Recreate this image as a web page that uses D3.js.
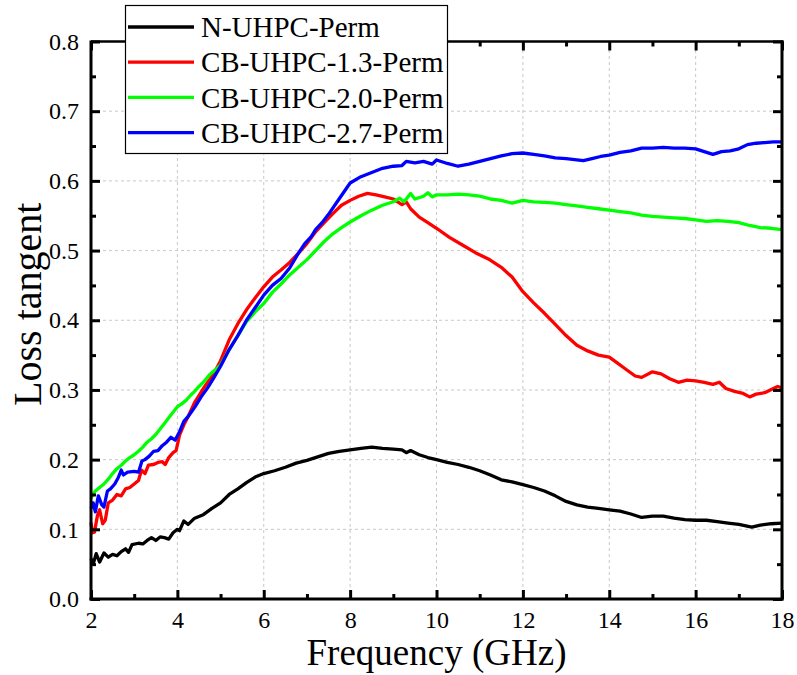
<!DOCTYPE html>
<html><head><meta charset="utf-8">
<script src="https://cdn.jsdelivr.net/npm/d3@7"></script>
<style>body{margin:0;background:#fff}svg{display:block}text{font-family:"Liberation Serif","Times New Roman",serif;fill:#000}</style>
</head><body>
<script>
const seriesNames = ["N-UHPC-Perm","CB-UHPC-1.3-Perm","CB-UHPC-2.0-Perm","CB-UHPC-2.7-Perm"];
const seriesColors = ["#000000","#ff0000","#00ff00","#0000ff"];
const xTicks = [2,4,6,8,10,12,14,16,18];
const yTicks = [0.0,0.1,0.2,0.3,0.4,0.5,0.6,0.7,0.8];

const nUHPC = [[2.0,0.058],[2.05,0.05],[2.12,0.065],[2.2,0.053],[2.3,0.066],[2.4,0.06],[2.5,0.064],[2.6,0.062],[2.7,0.068],[2.8,0.072],[2.87,0.067],[2.95,0.078],[3.1,0.08],[3.2,0.079],[3.3,0.084],[3.4,0.088],[3.5,0.084],[3.6,0.089],[3.7,0.088],[3.8,0.086],[3.9,0.095],[4.0,0.1],[4.05,0.098],[4.15,0.112],[4.25,0.107],[4.4,0.116],[4.6,0.121],[4.8,0.13],[5.0,0.138],[5.2,0.15],[5.4,0.158],[5.6,0.167],[5.8,0.175],[6.0,0.18],[6.25,0.184],[6.5,0.189],[6.75,0.195],[7.0,0.199],[7.25,0.204],[7.5,0.209],[7.75,0.212],[8.0,0.214],[8.25,0.216],[8.5,0.218],[8.75,0.216],[9.0,0.215],[9.2,0.214],[9.3,0.21],[9.4,0.213],[9.6,0.207],[9.8,0.203],[10.0,0.2],[10.25,0.196],[10.5,0.193],[10.75,0.189],[11.0,0.184],[11.25,0.178],[11.5,0.171],[11.75,0.168],[12.0,0.164],[12.25,0.16],[12.5,0.155],[12.75,0.148],[13.0,0.14],[13.25,0.135],[13.5,0.132],[13.75,0.13],[14.0,0.128],[14.25,0.126],[14.5,0.122],[14.75,0.117],[15.0,0.119],[15.25,0.119],[15.5,0.116],[15.75,0.114],[16.0,0.113],[16.25,0.113],[16.5,0.111],[16.75,0.109],[17.0,0.107],[17.3,0.103],[17.5,0.106],[17.75,0.108],[18.0,0.109]];

const cb13 = [[2.0,0.11],[2.03,0.095],[2.08,0.096],[2.15,0.12],[2.2,0.128],[2.27,0.108],[2.33,0.113],[2.4,0.138],[2.5,0.142],[2.6,0.15],[2.7,0.148],[2.8,0.158],[2.9,0.16],[3.0,0.165],[3.1,0.17],[3.17,0.185],[3.25,0.18],[3.33,0.192],[3.45,0.193],[3.55,0.196],[3.65,0.197],[3.72,0.193],[3.8,0.203],[3.9,0.21],[3.97,0.213],[4.05,0.235],[4.15,0.25],[4.25,0.262],[4.4,0.282],[4.5,0.292],[4.6,0.302],[4.75,0.315],[4.9,0.33],[5.0,0.342],[5.2,0.372],[5.4,0.395],[5.6,0.415],[5.8,0.432],[6.0,0.448],[6.2,0.462],[6.4,0.472],[6.6,0.483],[6.8,0.496],[7.0,0.51],[7.2,0.527],[7.4,0.54],[7.6,0.553],[7.8,0.565],[8.0,0.572],[8.2,0.578],[8.4,0.582],[8.6,0.58],[8.8,0.577],[9.0,0.574],[9.2,0.566],[9.3,0.57],[9.4,0.56],[9.6,0.548],[9.8,0.54],[10.0,0.532],[10.3,0.519],[10.6,0.508],[10.9,0.497],[11.2,0.488],[11.5,0.476],[11.75,0.462],[12.0,0.441],[12.25,0.425],[12.5,0.41],[12.75,0.394],[13.0,0.378],[13.25,0.364],[13.5,0.356],[13.75,0.35],[14.0,0.347],[14.2,0.338],[14.4,0.329],[14.6,0.32],[14.75,0.318],[15.0,0.326],[15.2,0.323],[15.4,0.316],[15.6,0.311],[15.8,0.314],[16.0,0.313],[16.2,0.311],[16.4,0.308],[16.55,0.311],[16.7,0.302],[16.9,0.298],[17.1,0.295],[17.25,0.29],[17.4,0.294],[17.6,0.296],[17.8,0.302],[17.9,0.305],[18.0,0.303]];

const cb20 = [[2.0,0.145],[2.1,0.155],[2.2,0.16],[2.3,0.165],[2.4,0.172],[2.5,0.18],[2.6,0.187],[2.7,0.192],[2.8,0.198],[2.9,0.203],[3.0,0.207],[3.1,0.212],[3.2,0.218],[3.3,0.225],[3.4,0.23],[3.5,0.236],[3.6,0.244],[3.7,0.252],[3.8,0.26],[3.9,0.268],[4.0,0.276],[4.1,0.28],[4.2,0.285],[4.3,0.292],[4.4,0.298],[4.5,0.305],[4.6,0.311],[4.75,0.322],[4.9,0.33],[5.0,0.336],[5.2,0.358],[5.4,0.378],[5.6,0.398],[5.8,0.412],[6.0,0.424],[6.2,0.44],[6.4,0.452],[6.6,0.465],[6.8,0.476],[7.0,0.487],[7.2,0.5],[7.4,0.513],[7.6,0.524],[7.8,0.533],[8.0,0.541],[8.25,0.55],[8.5,0.558],[8.75,0.565],[9.0,0.57],[9.15,0.575],[9.25,0.57],[9.4,0.582],[9.5,0.574],[9.7,0.578],[9.8,0.583],[9.9,0.577],[10.0,0.58],[10.25,0.58],[10.5,0.581],[10.75,0.58],[11.0,0.578],[11.25,0.574],[11.5,0.572],[11.75,0.568],[12.0,0.572],[12.25,0.57],[12.5,0.569],[12.75,0.568],[13.0,0.566],[13.25,0.564],[13.5,0.562],[13.75,0.56],[14.0,0.558],[14.25,0.556],[14.5,0.554],[14.75,0.551],[15.0,0.549],[15.25,0.548],[15.5,0.547],[15.75,0.546],[16.0,0.544],[16.25,0.542],[16.5,0.543],[16.75,0.542],[17.0,0.54],[17.25,0.536],[17.5,0.533],[17.75,0.532],[18.0,0.53]];

const cb27 = [[2.0,0.13],[2.05,0.138],[2.1,0.125],[2.17,0.148],[2.25,0.135],[2.3,0.132],[2.38,0.155],[2.45,0.158],[2.55,0.165],[2.63,0.174],[2.7,0.185],[2.75,0.178],[2.85,0.182],[3.0,0.183],[3.1,0.182],[3.18,0.198],[3.25,0.2],[3.35,0.205],[3.45,0.212],[3.55,0.213],[3.65,0.22],[3.75,0.225],[3.85,0.232],[3.95,0.228],[4.05,0.24],[4.15,0.255],[4.25,0.262],[4.4,0.275],[4.55,0.29],[4.7,0.303],[4.85,0.318],[5.0,0.334],[5.2,0.358],[5.4,0.378],[5.6,0.4],[5.8,0.418],[6.0,0.436],[6.2,0.45],[6.4,0.46],[6.6,0.475],[6.8,0.496],[6.95,0.51],[7.1,0.52],[7.2,0.53],[7.35,0.54],[7.5,0.552],[7.7,0.57],[7.9,0.588],[8.0,0.597],[8.25,0.606],[8.5,0.612],[8.75,0.618],[9.0,0.621],[9.2,0.622],[9.3,0.628],[9.5,0.626],[9.7,0.628],[9.9,0.624],[10.0,0.63],[10.25,0.625],[10.5,0.621],[10.75,0.624],[11.0,0.628],[11.25,0.632],[11.5,0.636],[11.75,0.639],[12.0,0.64],[12.25,0.638],[12.5,0.636],[12.75,0.633],[13.0,0.632],[13.25,0.63],[13.4,0.629],[13.6,0.632],[13.8,0.635],[14.0,0.637],[14.25,0.641],[14.5,0.643],[14.75,0.647],[15.0,0.647],[15.25,0.648],[15.5,0.647],[15.75,0.647],[16.0,0.646],[16.2,0.642],[16.4,0.638],[16.6,0.642],[16.8,0.643],[17.0,0.646],[17.2,0.652],[17.4,0.654],[17.6,0.655],[17.8,0.656],[18.0,0.656]];

const seriesData = [nUHPC, cb13, cb20, cb27];

const W = 797, H = 675;
const m = {left: 91, right: 797-782, top: 41.5, bottom: 675-599};
const svg = d3.select("body").append("svg").attr("width", W).attr("height", H);
const x = d3.scaleLinear().domain([2,18]).range([m.left, W-m.right]);
const y = d3.scaleLinear().domain([0,0.8]).range([H-m.bottom, m.top]);
const SERIF = "Liberation Serif";

// grid
const grid = svg.append("g").attr("stroke","#c8c8c8").attr("stroke-width",1).attr("stroke-dasharray","3,3");
xTicks.slice(1,-1).forEach(t => grid.append("line").attr("x1",x(t)).attr("x2",x(t)).attr("y1",y(0)).attr("y2",y(0.8)));
yTicks.slice(1,-1).forEach(t => grid.append("line").attr("x1",x(2)).attr("x2",x(18)).attr("y1",y(t)).attr("y2",y(t)));

// lines
const line = d3.line().x(d => x(d[0])).y(d => y(d[1]));
const plot = svg.append("g");
seriesData.forEach((s,i) => plot.append("path").datum(s).attr("d", line)
  .attr("fill","none").attr("stroke", seriesColors[i]).attr("stroke-width",3.3).attr("stroke-linejoin","round"));

// axes with inward ticks
const xMinor = d3.range(3,18,2);
const yMinor = d3.range(0.05,0.8,0.1);
function axisGroup(axis, tr){ const g = svg.append("g").attr("transform", tr).call(axis).attr("font-family", SERIF); g.select(".domain").remove(); g.selectAll("line").attr("stroke","#000").attr("stroke-width",3); return g; }
const fmtY = d3.format(".1f");
const bx = axisGroup(d3.axisBottom(x).tickValues(xTicks).tickSize(-9).tickPadding(12).tickFormat(d3.format("d")), `translate(0,${y(0)})`);
bx.selectAll("text").attr("font-size",24).attr("font-family",SERIF);
axisGroup(d3.axisBottom(x).tickValues(xMinor).tickSize(-5).tickFormat(""), `translate(0,${y(0)})`);
axisGroup(d3.axisTop(x).tickValues(xTicks).tickSize(-9).tickFormat(""), `translate(0,${y(0.8)})`);
axisGroup(d3.axisTop(x).tickValues(xMinor).tickSize(-5).tickFormat(""), `translate(0,${y(0.8)})`);
const ly = axisGroup(d3.axisLeft(y).tickValues(yTicks).tickSize(-9).tickPadding(12).tickFormat(fmtY), `translate(${x(2)},0)`);
ly.selectAll("text").attr("font-size",24).attr("font-family",SERIF);
axisGroup(d3.axisLeft(y).tickValues(yMinor).tickSize(-5).tickFormat(""), `translate(${x(2)},0)`);
axisGroup(d3.axisRight(y).tickValues(yTicks).tickSize(-9).tickFormat(""), `translate(${x(18)},0)`);
axisGroup(d3.axisRight(y).tickValues(yMinor).tickSize(-5).tickFormat(""), `translate(${x(18)},0)`);

// frame
svg.append("line").attr("x1",x(2)).attr("x2",x(18)+1.5).attr("y1",y(0.8)).attr("y2",y(0.8)).attr("stroke","#000").attr("stroke-width",2.5);
svg.append("line").attr("x1",x(2)-1.5).attr("x2",x(18)+1.5).attr("y1",y(0)).attr("y2",y(0)).attr("stroke","#000").attr("stroke-width",3);
svg.append("line").attr("x1",x(2)).attr("x2",x(2)).attr("y1",y(0.8)-1).attr("y2",y(0)+1.5).attr("stroke","#000").attr("stroke-width",3);
svg.append("line").attr("x1",x(18)).attr("x2",x(18)).attr("y1",y(0.8)-1).attr("y2",y(0)+1.5).attr("stroke","#000").attr("stroke-width",3);

// axis titles
svg.append("text").attr("x",(x(2)+x(18))/2).attr("y",665).attr("text-anchor","middle").attr("font-family",SERIF).attr("font-size",37).text("Frequency (GHz)");
svg.append("text").attr("transform",`translate(41,${(y(0)+y(0.8))/2 - 16}) rotate(-90)`).attr("text-anchor","middle").attr("font-family",SERIF).attr("font-size",40).text("Loss tangent");

// legend
const lg = svg.append("g");
lg.append("rect").attr("x",125.5).attr("y",5.5).attr("width",322).attr("height",148).attr("fill","#fff").attr("stroke","#000").attr("stroke-width",1.2);
seriesNames.forEach((n,i) => {
  const cy = 27 + i*35.2;
  lg.append("line").attr("x1",128).attr("x2",194).attr("y1",cy).attr("y2",cy).attr("stroke",seriesColors[i]).attr("stroke-width",3.3);
  lg.append("text").attr("x",201).attr("y",cy).attr("dy","0.35em").attr("font-family",SERIF).attr("font-size",29).text(n);
});
</script>
</body></html>
